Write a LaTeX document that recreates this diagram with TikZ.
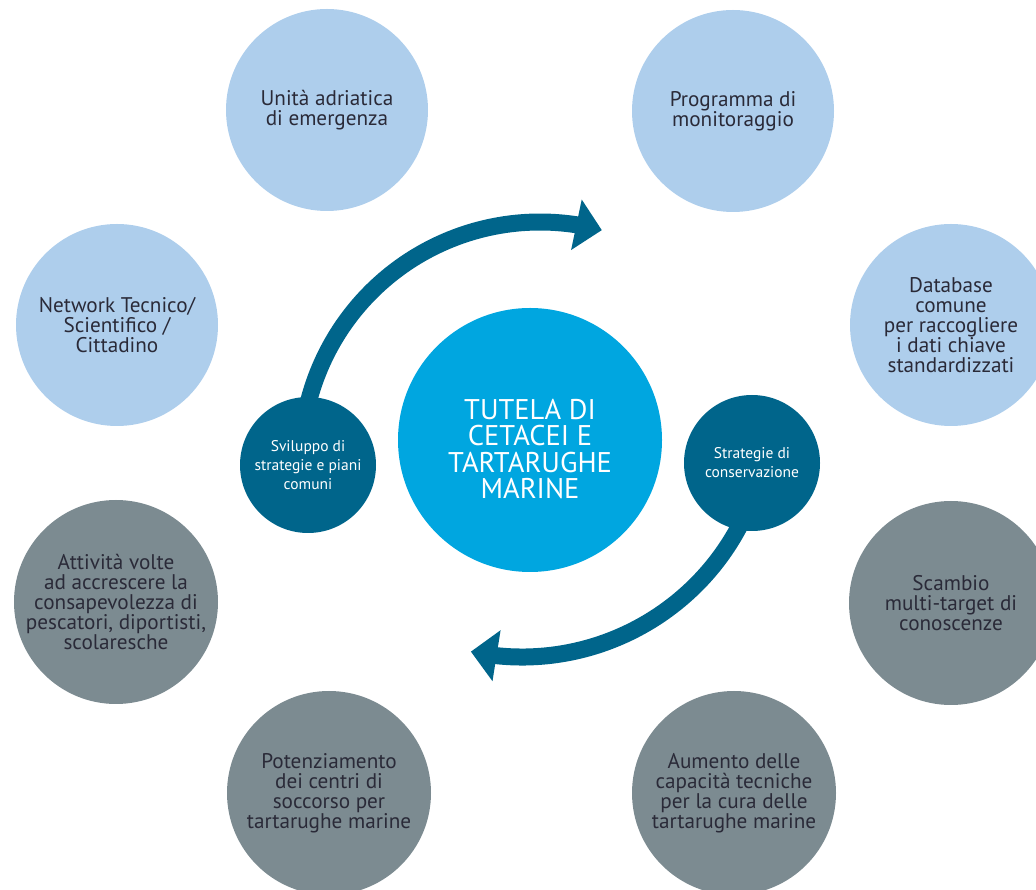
\documentclass[tikz,border=0pt]{standalone}
\usepackage{fontspec}
\setmainfont{PT Sans}
\usetikzlibrary{arrows.meta,bending}
\definecolor{lightc}{HTML}{AECEEC}
\definecolor{grayc}{HTML}{7C8B91}
\definecolor{centerc}{HTML}{00A6E0}
\definecolor{darkc}{HTML}{00658B}
\definecolor{txt}{HTML}{2A2A38}
\begin{document}
\begin{tikzpicture}[x=1pt,y=1pt,
  bubble/.style={circle, inner sep=0pt, align=center, text=txt, font=\fontsize{21.2}{20}\selectfont},
  lightbub/.style={bubble, fill=lightc, minimum size=202pt},
  graybub/.style={bubble, fill=grayc, minimum size=204pt},
  smallbub/.style={circle, inner sep=0pt, fill=darkc, minimum size=136pt, text=white, align=center, font=\fontsize{15.5}{19}\selectfont},
  arrowline/.style={draw=darkc, line width=17pt, -{Triangle[width=50pt,length=26pt]}}
]
\useasboundingbox (0,0) rectangle (1036,889);
\clip (0,0) rectangle (1036,889);

% outer bubbles
\node[lightbub] (unita) at (327,779) {Unità adriatica\\di emergenza};
\node[lightbub] (progr) at (733,778) {Programma di\\monitoraggio};
\node[lightbub] (network) at (117,564) {Network Tecnico/\\Scientifico /\\Cittadino};
\node[lightbub] (database) at (951,564) {Database\\comune\\per raccogliere\\i dati chiave\\standardizzati};
\node[graybub] (attivita) at (116,287) {Attività volte\\ad accrescere la\\consapevolezza di\\pescatori, diportisti,\\scolaresche};
\node[graybub] (scambio) at (951,286) {Scambio\\multi-target di\\conoscenze};
\node[graybub] (potenz) at (329,96) {Potenziamento\\dei centri di\\soccorso per\\tartarughe marine};
\node[graybub] (aumento) at (734,96) {Aumento delle\\capacità tecniche\\per la cura delle\\tartarughe marine};

% centre
\node[circle, fill=centerc, minimum size=264pt, inner sep=0pt] (tutela) at (530,449) {};
\node[text=white, align=center, font=\fontsize{28.5}{26.5}\selectfont] (title) at (530,440) {TUTELA DI\\CETACEI E\\TARTARUGHE\\MARINE};

% curved arrows
\coordinate (arcA) at (540,428);
\coordinate (arcB) at (522,478);
\draw[arrowline] ([shift={(181:239)}]arcA) arc[start angle=181, end angle=75, radius=239];
\draw[arrowline] ([shift={(-20:246)}]arcB) arc[start angle=-20, end angle=-102, radius=246];

% small circles
\node[smallbub] (svil) at (308,424) {Sviluppo di\\strategie e piani\\comuni};
\node[smallbub] (strat) at (752,426) {Strategie di\\conservazione};
\end{tikzpicture}
\end{document}
